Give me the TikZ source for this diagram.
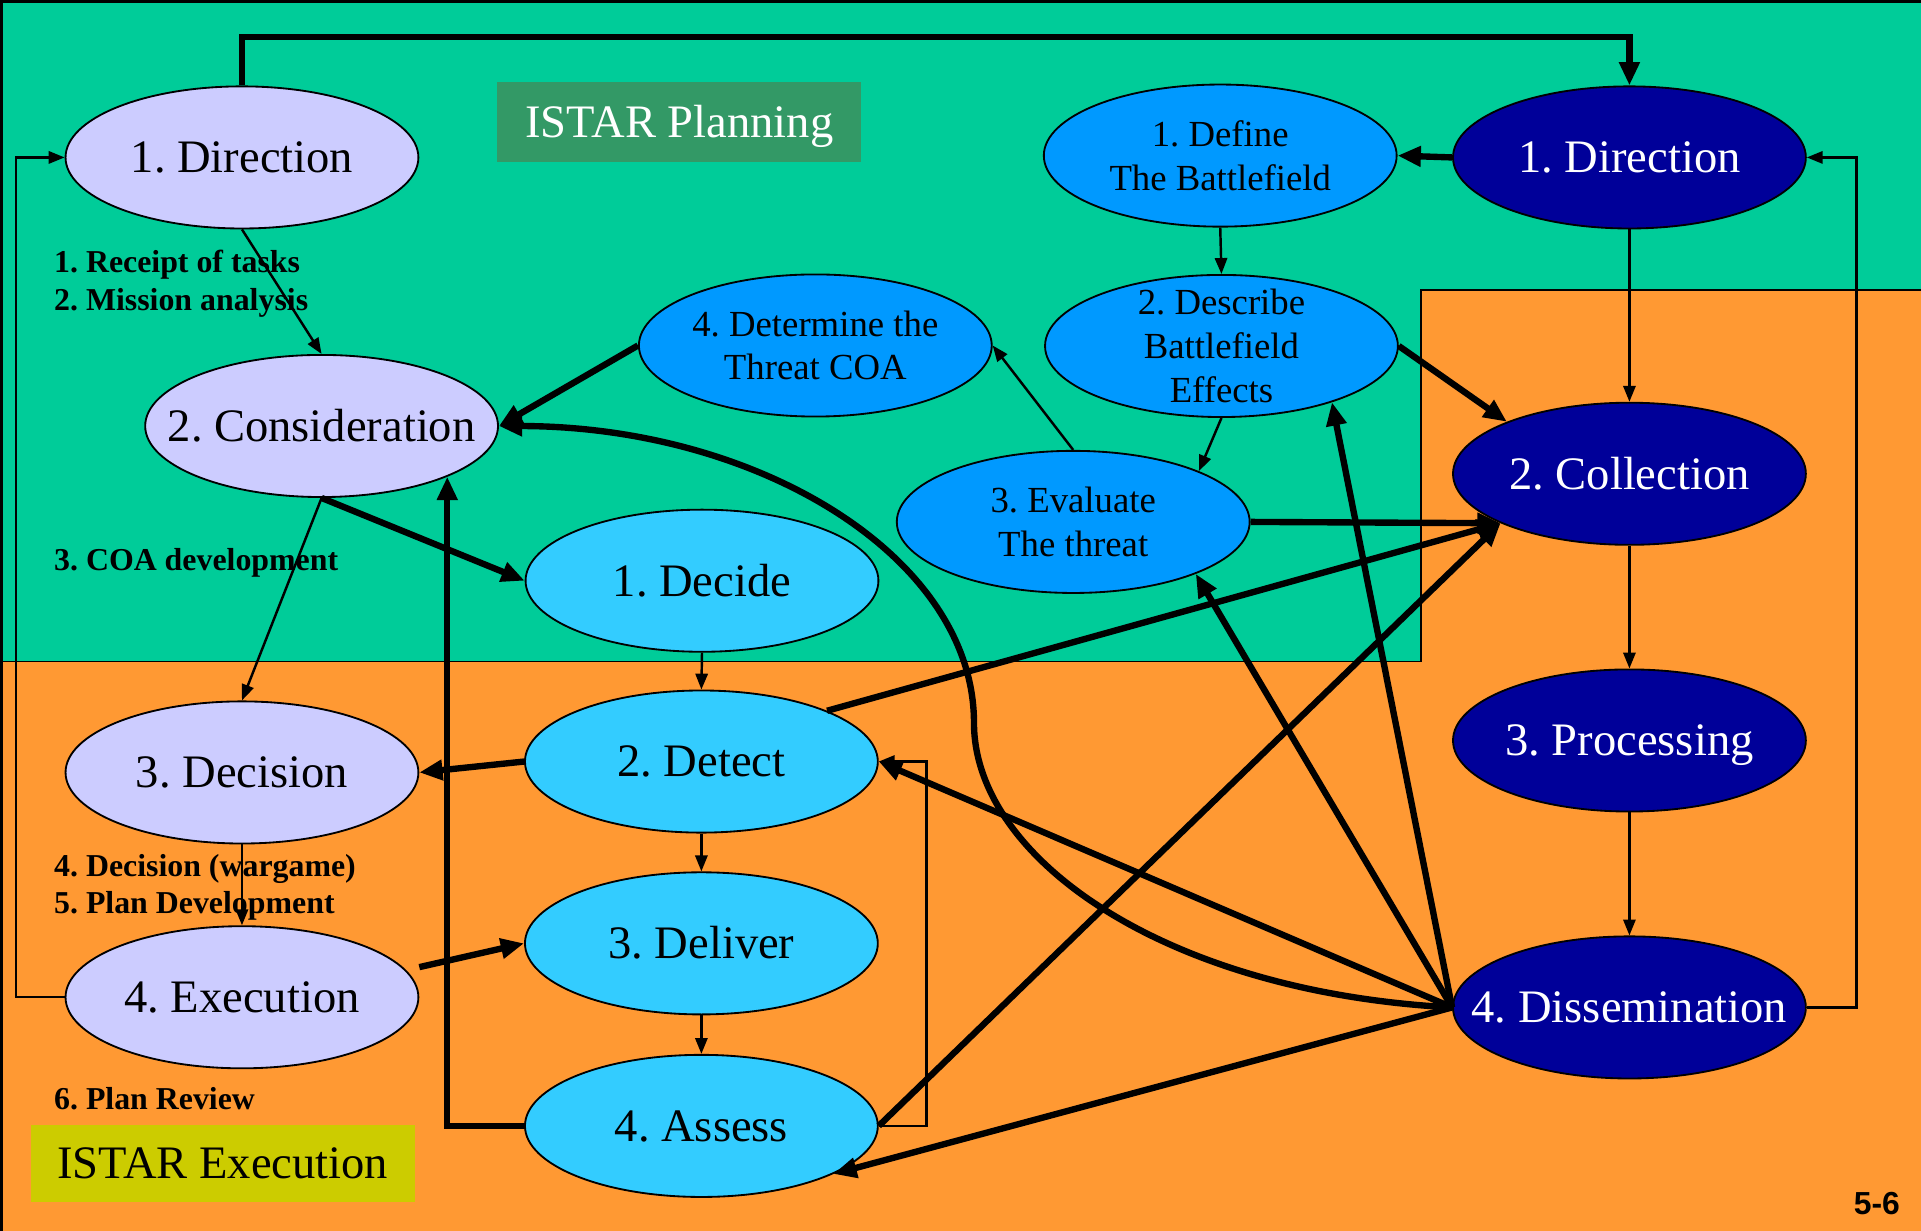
\documentclass[tikz,border=0pt]{standalone}
\usepackage{fontspec}
\setmainfont{Liberation Serif}
\newfontfamily\pagefont{Liberation Sans}
\usetikzlibrary{shapes.geometric,arrows.meta}

\definecolor{bggreen}{HTML}{00CC99}
\definecolor{bgorange}{HTML}{FF9933}
\definecolor{lavender}{HTML}{CCCCFF}
\definecolor{skyblue}{HTML}{33CCFF}
\definecolor{midblue}{HTML}{0099FF}
\definecolor{navy}{HTML}{000099}
\definecolor{plangreen}{HTML}{339966}
\definecolor{olive}{HTML}{CCCC00}

\begin{document}
\frenchspacing
\begin{tikzpicture}[x=1pt,y=-1pt,
  ell/.style={ellipse, draw=black, line width=1.5pt, minimum width=288pt,
    minimum height=116pt, inner sep=0pt},
  plan/.style={ell, fill=lavender},
  dtda/.style={ell, fill=skyblue},
  ipb/.style={ell, fill=midblue},
  icyc/.style={ell, fill=navy},
  big/.style={font=\fontsize{38}{42}\selectfont, text height=25pt, text depth=0pt, inner sep=0pt},
  mid/.style={font=\fontsize{30}{35.6}\selectfont, align=center, inner sep=0pt},
  note/.style={font=\bfseries\fontsize{26}{29}\selectfont, anchor=base west, inner sep=0pt},
  thin/.style={line width=2pt, -{Triangle[length=13pt,width=10pt]}},
  thick/.style={line width=5.2pt, -{Triangle[length=19pt,width=16pt]}},
  pane/.style={line width=1.5pt, draw=black},
]
\useasboundingbox (0,0) rectangle (1568,1004);
\clip (0,0) rectangle (1568,1004);

% background panes
\fill[bggreen] (0,0) rectangle (1568,1004);
\filldraw[pane, fill=bgorange] (-10,540) -- (1160,540) -- (1160,237) -- (1590,237)
  -- (1590,1020) -- (-10,1020) -- cycle;
\draw[line width=2.2pt] (1.2,1010) -- (1.2,1.2) -- (1580,1.2);

% title boxes
\node[fill=plangreen, minimum width=297pt, minimum height=65.6pt, inner sep=0pt]
  (planbox) at (554.5,99.8) {};
\node[big, text=white] (plantext) at (planbox) {ISTAR Planning};
\node[fill=olive, minimum width=313.4pt, minimum height=63pt, inner sep=0pt]
  (execbox) at (181.7,949.5) {};
\node[big] (exectext) at (execbox) {ISTAR Execution};

% planning cycle
\node[plan] (pdir) at (197.5,128.5) {};
\node[big] (pdir-t) at (pdir) {1. Direction};
\node[plan] (pcon) at (262.5,347.7) {};
\node[big] (pcon-t) at (pcon) {2. Consideration};
\node[plan] (pdec) at (197.5,630.5) {};
\node[big] (pdec-t) at (pdec) {3. Decision};
\node[plan] (pexe) at (197.5,814) {};
\node[big] (pexe-t) at (pexe) {4. Execution};

% decide - detect - deliver - assess
\node[dtda] (decide) at (573,474) {};
\node[big] (decide-t) at (decide) {1. Decide};
\node[dtda] (detect) at (572.5,621.6) {};
\node[big] (detect-t) at (detect) {2. Detect};
\node[dtda] (deliver) at (572.5,770) {};
\node[big] (deliver-t) at (deliver) {3. Deliver};
\node[dtda] (assess) at (572.5,919) {};
\node[big] (assess-t) at (assess) {4. Assess};

% battlefield preparation
\node[ipb] (ipb1) at (996,127) {};
\node[mid] (ipb1-t) at (ipb1) {1. Define\\The Battlefield};
\node[ipb] (ipb2) at (997,282.4) {};
\node[mid] (ipb2-t) at (ipb2) {2. Describe\\Battlefield\\Effects};
\node[ipb] (ipb3) at (876,426) {};
\node[mid] (ipb3-t) at (ipb3) {3. Evaluate\\The threat};
\node[ipb] (ipb4) at (665.5,282) {};
\node[mid] (ipb4-t) at (ipb4) {4. Determine the\\Threat COA};

% intelligence cycle
\node[icyc] (idir) at (1330,128.5) {};
\node[big, text=white] (idir-t) at (idir) {1. Direction};
\node[icyc] (icol) at (1330,386.7) {};
\node[big, text=white] (icol-t) at (icol) {2. Collection};
\node[icyc] (ipro) at (1330,604.4) {};
\node[big, text=white] (ipro-t) at (ipro) {3. Processing};
\node[icyc] (idis) at (1330,822.3) {};
\node[big, text=white] (idis-t) at (idis) {4. Dissemination};

% planning steps
\node[note] (n1) at (44,222.7) {1. Receipt of tasks};
\node[note] (n2) at (44,253.4) {2. Mission analysis};
\node[note] (n3) at (44,466) {3. COA development};
\node[note] (n4) at (44,715.5) {4. Decision (wargame)};
\node[note] (n5) at (44,745.8) {5. Plan Development};
\node[note] (n6) at (44,906) {6. Plan Review};

\node[font=\pagefont\bfseries\fontsize{26}{30}\selectfont, anchor=base east, inner sep=0pt]
  (pageno) at (1551,991) {5-6};

% planning cycle links
\draw[thin] (pdir.south) -- (pcon.north);
\draw[thin] (pcon.south) -- (pdec.north);
\draw[thin] (pdec.south) -- (pexe.north);
\draw[thin] (pexe.west) -- ++(-39.5,0) |- (pdir.west);
\draw[thick] (pdir.north) -- ++(0,-39.5) -| (idir.north);

% decide - detect - deliver - assess links
\draw[thick] (pcon.south) -- (decide.west);
\draw[thin] (decide.south) -- (detect.north);
\draw[thin] (detect.south) -- (deliver.north);
\draw[thin] (deliver.south) -- (assess.north);
\draw[thick] (detect.west) -- (pdec.east);
\draw[thick] ([yshift=24.6pt]pexe.east) -- (deliver.west);
\draw[thick] (assess.west) -| (pcon.-22);
\draw[thin] (assess.east) -- ++(39,0) |- (detect.east);

% battlefield preparation links
\draw[thick] (idir.west) -- (ipb1.east);
\draw[thin] (ipb1.south) -- (ipb2.north);
\draw[thin] (ipb2.south) -- (ipb3.22);
\draw[thin] (ipb3.north) -- (ipb4.east);
\draw[thick] (ipb4.west) -- (pcon.east);

% intelligence cycle links
\draw[thin] (idir.south) -- (icol.north);
\draw[thin] (icol.south) -- (ipro.north);
\draw[thin] (ipro.south) -- (idis.north);
\draw[thin] (idis.east) -- ++(40.5,0) |- (idir.east);

% feeds into collection
\draw[thick] (ipb2.east) -- (icol.157);
\draw[thick] (ipb3.east) -- (icol.201);
\draw[thick] (detect.22) -- (icol.201);
\draw[thick] (assess.east) -- (icol.201);

% dissemination outputs
\draw[thick] (idis.west) -- (ipb2.-27);
\draw[thick] (idis.west) -- (ipb3.-23);
\draw[thick] (idis.west) -- (detect.east);
\draw[thick] (idis.west) -- (assess.-20);
\draw[thick] (idis.west) .. controls (950,810) and (795,700) .. (795,590)
  .. controls (795,456) and (621,348) .. (pcon.east);
\end{tikzpicture}
\end{document}
